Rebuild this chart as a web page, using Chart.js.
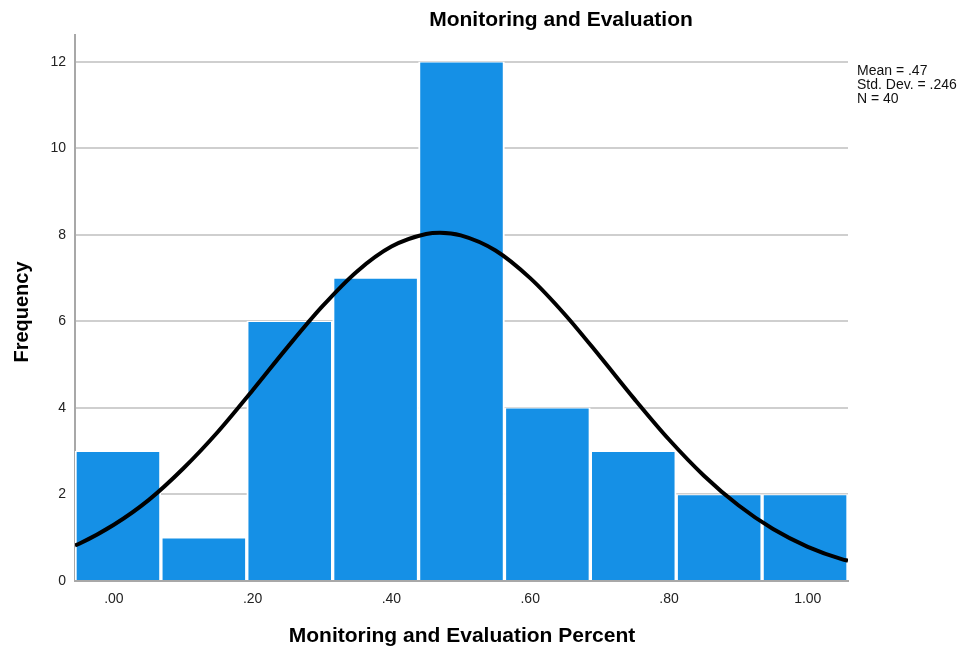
<!DOCTYPE html>
<html>
<head>
<meta charset="utf-8">
<script src="https://cdn.jsdelivr.net/npm/chart.js@4/dist/chart.umd.min.js"></script>
<style>
  html, body { margin: 0; padding: 0; background: #ffffff; }
  #wrap { width: 964px; height: 649px; position: relative; }
</style>
</head>
<body>
<div id="wrap"><canvas id="c" width="964" height="649"></canvas></div>
<script>
// ---- data ----
const binLabels = ["-0.056", "0.068", "0.192", "0.315", "0.439", "0.563", "0.687", "0.810", "0.934"];
const frequencies = [3, 1, 6, 7, 12, 4, 3, 2, 2];
const curveX = [-0.056, -0.05, 0.0, 0.05, 0.10, 0.15, 0.20, 0.25, 0.30, 0.35, 0.40, 0.45, 0.47, 0.50, 0.55, 0.60, 0.65, 0.70, 0.75, 0.80, 0.85, 0.90, 0.95, 1.00, 1.05, 1.058];
const curveY = [0.82, 0.86, 1.30, 1.87, 2.60, 3.45, 4.41, 5.40, 6.34, 7.15, 7.73, 8.02, 8.05, 7.99, 7.64, 7.00, 6.16, 5.20, 4.21, 3.27, 2.44, 1.75, 1.20, 0.79, 0.50, 0.47];
const xTickValues = [0, 0.2, 0.4, 0.6, 0.8, 1.0];
const xTickLabels = [".00", ".20", ".40", ".60", ".80", "1.00"];
const yTickValues = [0, 2, 4, 6, 8, 10, 12];
const statsLines = ["Mean = .47", "Std. Dev. = .246", "N = 40"];
const chartTitle = "Monitoring and Evaluation";
const xTitle = "Monitoring and Evaluation Percent";
const yTitle = "Frequency";

const FONT = "'Liberation Sans', Arial, sans-serif";

const textPlugin = {
  id: 'texts',
  afterDraw(chart) {
    const ctx = chart.ctx;
    ctx.save();
    ctx.fillStyle = '#000';
    ctx.textBaseline = 'middle';
    ctx.textAlign = 'center';
    ctx.font = "bold 21px " + FONT;
    ctx.fillText(chartTitle, 561, 20);
    ctx.fillText(xTitle, 462, 636);
    ctx.save();
    ctx.translate(22, 312);
    ctx.rotate(-Math.PI / 2);
    ctx.font = "bold 20px " + FONT;
    ctx.fillText(yTitle, 0, 0);
    ctx.restore();
    ctx.textAlign = 'left';
    ctx.font = "14px " + FONT;
    ctx.fillStyle = '#111';
    statsLines.forEach((s, i) => ctx.fillText(s, 857, 71 + i * 14));
    ctx.restore();
  }
};

new Chart(document.getElementById('c'), {
  type: 'bar',
  data: {
    labels: binLabels,
    datasets: [
      {
        type: 'line',
        data: curveX.map((x, i) => ({ x: x, y: curveY[i] })),
        xAxisID: 'x',
        borderColor: '#000000',
        borderWidth: 4,
        pointRadius: 0,
        fill: false,
        cubicInterpolationMode: 'monotone',
        order: 0
      },
      {
        type: 'bar',
        data: frequencies,
        xAxisID: 'xb',
        grouped: false,
        backgroundColor: '#1590e6',
        borderColor: '#ffffff',
        borderWidth: { left: 2, right: 2, top: 1, bottom: 0 },
        borderSkipped: false,
        barPercentage: 1,
        categoryPercentage: 1,
        order: 1
      }
    ]
  },
  options: {
    responsive: false,
    animation: false,
    devicePixelRatio: 1,
    layout: { padding: { left: 0, right: 116, top: 35, bottom: 0 } },
    plugins: { legend: { display: false }, tooltip: { enabled: false }, title: { display: false } },
    scales: {
      xb: {
        type: 'category',
        display: false,
        offset: true,
        grid: { display: false }
      },
      x: {
        type: 'linear',
        position: 'bottom',
        offset: false,
        min: -0.056,
        max: 1.058,
        afterBuildTicks: (s) => { s.ticks = xTickValues.map(v => ({ value: v })); },
        afterFit: (s) => { s.height = 68; },
        grid: { display: false, drawTicks: false, offset: false },
        border: { display: true, color: '#a8a8a8', width: 2 },
        ticks: {
          padding: 10,
          color: '#222',
          font: { family: FONT, size: 14 },
          autoSkip: false,
          maxRotation: 0,
          callback: (v) => { const i = xTickValues.indexOf(v); return i >= 0 ? xTickLabels[i] : ''; }
        }
      },
      y: {
        type: 'linear',
        min: 0,
        max: 12.62,
        afterBuildTicks: (s) => { s.ticks = yTickValues.map(v => ({ value: v })); },
        afterFit: (s) => { s.width = 75; },
        grid: { color: '#cfcfcf', lineWidth: 2, drawTicks: false },
        border: { display: true, color: '#a8a8a8', width: 2 },
        ticks: {
          padding: 9,
          color: '#222',
          font: { family: FONT, size: 14 },
          callback: (v) => String(v)
        }
      }
    }
  },
  plugins: [textPlugin]
});
</script>
</body>
</html>
